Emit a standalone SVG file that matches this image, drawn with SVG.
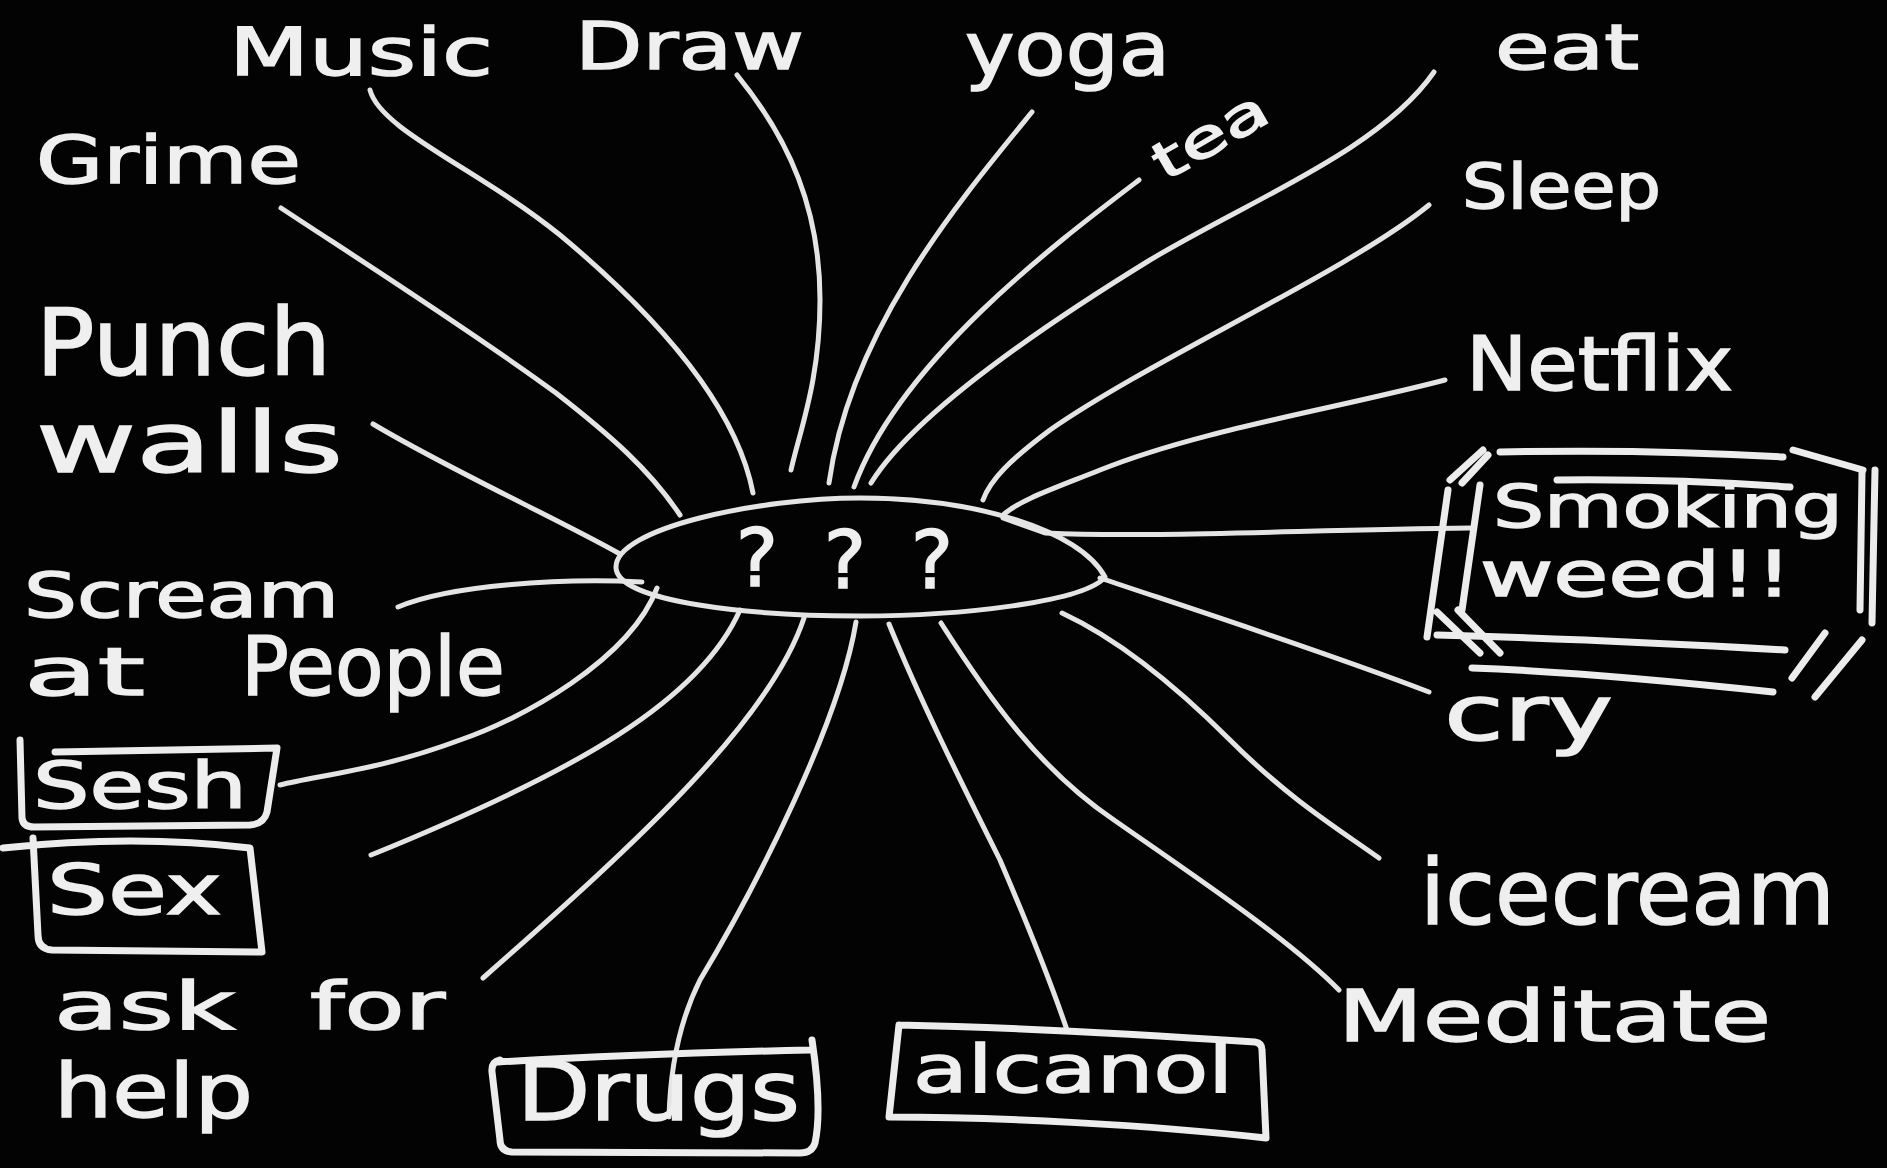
<svg xmlns="http://www.w3.org/2000/svg" width="1887" height="1168" viewBox="0 0 1887 1168">
<style>
.t { font-family: "DejaVu Sans", "Liberation Sans", sans-serif; fill: #efefef; stroke: #efefef; stroke-width: 1.5; }
.c { fill: none; stroke: #e4e4e4; stroke-width: 5; stroke-linecap: round; stroke-linejoin: round; }
.b { fill: none; stroke: #ececec; stroke-width: 7; stroke-linecap: round; stroke-linejoin: round; }
</style>
<rect x="0" y="0" width="1887" height="1168" fill="#030303"/>

<g id="connectors">
  <path class="c" d="M 370,90 C 380,130 480,170 560,235 C 650,310 735,400 753,493"/>
  <path class="c" d="M 737,75 C 790,140 820,210 820,300 C 820,380 800,430 791,470"/>
  <path class="c" d="M 1032,112 C 960,200 850,330 829,483"/>
  <path class="c" d="M 1139,180 C 1060,240 900,360 854,487"/>
  <path class="c" d="M 1434,72 C 1380,150 1250,200 1150,260 C 1020,340 910,420 871,483"/>
  <path class="c" d="M 1429,205 C 1350,270 1150,360 1050,430 C 1010,460 990,480 983,500"/>
  <path class="c" d="M 1445,380 C 1330,410 1200,430 1100,470 C 1050,490 1020,500 1003,515"/>
  <path class="c" d="M 1003,518 L 1045,533 C 1150,538 1300,530 1470,528"/>
  <path class="c" d="M 1100,578 C 1180,605 1320,650 1429,692"/>
  <path class="c" d="M 1062,613 C 1120,640 1180,690 1230,740 C 1290,800 1340,830 1379,858"/>
  <path class="c" d="M 941,623 C 990,700 1040,770 1114,820 C 1200,880 1290,940 1339,990"/>
  <path class="c" d="M 889,624 C 920,700 960,780 1000,860 C 1030,930 1050,980 1067,1030"/>
  <path class="c" d="M 856,622 C 840,720 760,880 700,980 C 675,1030 670,1080 669,1117"/>
  <path class="c" d="M 804,618 C 770,720 640,840 483,978"/>
  <path class="c" d="M 740,610 C 700,700 580,770 371,855"/>
  <path class="c" d="M 657,588 C 630,660 520,720 460,740 C 380,770 320,775 280,785"/>
  <path class="c" d="M 398,607 C 450,585 560,578 642,582"/>
  <path class="c" d="M 373,424 C 450,470 560,520 620,554"/>
  <path class="c" d="M 281,208 C 360,260 470,330 556,393 C 610,435 650,470 680,515"/>
</g>

<g id="center">
  <path class="c" d="M 616,568 C 614,528 760,498 860,498 C 975,498 1080,530 1105,577 C 1085,602 960,616 860,616 C 750,616 618,602 616,568 Z"/>
  <text class="t" x="757" y="586" font-size="80" text-anchor="middle">?</text>
  <text class="t" x="845" y="588" font-size="80" text-anchor="middle">?</text>
  <text class="t" x="932" y="588" font-size="80" text-anchor="middle">?</text>
</g>

<g id="music"><text class="t" x="229" y="75" font-size="66" textLength="264" lengthAdjust="spacingAndGlyphs">Music</text></g>
<g id="draw"><text class="t" x="575" y="69" font-size="66" textLength="229" lengthAdjust="spacingAndGlyphs">Draw</text></g>
<g id="yoga"><text class="t" x="965" y="75" font-size="75" textLength="205" lengthAdjust="spacingAndGlyphs">yoga</text></g>
<g id="eat"><text class="t" x="1495" y="69" font-size="62" textLength="144" lengthAdjust="spacingAndGlyphs">eat</text></g>
<g id="tea"><text class="t" x="1165" y="182" font-size="52" textLength="125" lengthAdjust="spacingAndGlyphs" transform="rotate(-30 1165 182)">tea</text></g>
<g id="grime"><text class="t" x="36" y="183" font-size="66" textLength="265" lengthAdjust="spacingAndGlyphs">Grime</text></g>
<g id="sleep"><text class="t" x="1462" y="208" font-size="62" textLength="199" lengthAdjust="spacingAndGlyphs">Sleep</text></g>
<g id="punch-walls">
  <text class="t" x="36" y="375" font-size="92" textLength="295" lengthAdjust="spacingAndGlyphs">Punch</text>
  <text class="t" x="36" y="472" font-size="84" textLength="307" lengthAdjust="spacingAndGlyphs">walls</text>
</g>
<g id="netflix"><text class="t" x="1466" y="390" font-size="74" textLength="267" lengthAdjust="spacingAndGlyphs">Netflix</text></g>
<g id="smoking-weed">
  <path class="b" d="M 1500,452 C 1600,450 1700,452 1783,457"/>
  <path class="b" d="M 1557,480 C 1650,479 1720,482 1790,487"/>
  <path class="b" d="M 1450,480 L 1483,450 M 1462,483 L 1488,455"/>
  <path class="b" d="M 1793,450 L 1863,470"/>
  <path class="b" d="M 1448,490 L 1427,637 M 1480,485 L 1462,610"/>
  <path class="b" d="M 1862,473 L 1860,610 M 1875,470 L 1872,623"/>
  <path class="b" d="M 1437,635 C 1550,638 1680,644 1785,650"/>
  <path class="b" d="M 1472,668 C 1580,672 1680,682 1773,692"/>
  <path class="b" d="M 1437,612 L 1480,653 M 1458,610 L 1500,653"/>
  <path class="b" d="M 1825,633 L 1792,678 M 1862,640 L 1815,697"/>
  <text class="t" x="1493" y="527" font-size="58" textLength="350" lengthAdjust="spacingAndGlyphs">Smoking</text>
  <text class="t" x="1480" y="596" font-size="62" textLength="312" lengthAdjust="spacingAndGlyphs">weed!!</text>
</g>
<g id="scream-at-people">
  <text class="t" x="24" y="617" font-size="62" textLength="315" lengthAdjust="spacingAndGlyphs">Scream</text>
  <text class="t" x="24" y="695" font-size="66" textLength="121" lengthAdjust="spacingAndGlyphs">at</text>
  <text class="t" x="241" y="695" font-size="82" textLength="264" lengthAdjust="spacingAndGlyphs">People</text>
</g>
<g id="cry"><text class="t" x="1444" y="740" font-size="76" textLength="169" lengthAdjust="spacingAndGlyphs">cry</text></g>
<g id="sesh">
  <path class="b" d="M 20,740 L 22,818 Q 23,827 34,827 L 250,825 Q 264,824 267,812 L 277,748 L 55,752"/>
  <text class="t" x="33" y="808" font-size="64" textLength="214" lengthAdjust="spacingAndGlyphs">Sesh</text>
</g>
<g id="sex">
  <path class="b" d="M 3,848 C 60,842 150,836 250,848 L 262,952 L 52,950 Q 38,949 38,935 L 33,838"/>
  <text class="t" x="47" y="914" font-size="70" textLength="175" lengthAdjust="spacingAndGlyphs">Sex</text>
</g>
<g id="icecream"><text class="t" x="1420" y="924" font-size="90" textLength="415" lengthAdjust="spacingAndGlyphs">icecream</text></g>
<g id="ask-for-help">
  <text class="t" x="54" y="1029" font-size="66" textLength="181" lengthAdjust="spacingAndGlyphs">ask</text>
  <text class="t" x="310" y="1029" font-size="66" textLength="135" lengthAdjust="spacingAndGlyphs">for</text>
  <text class="t" x="54" y="1117" font-size="74" textLength="199" lengthAdjust="spacingAndGlyphs">help</text>
</g>
<g id="drugs">
  <path class="b" d="M 498,1062 C 600,1056 720,1052 810,1050 M 812,1040 C 818,1080 820,1120 815,1143 Q 812,1153 800,1153 L 512,1152 Q 500,1151 500,1140 L 492,1072 Q 491,1062 500,1060"/>
  <text class="t" x="517" y="1120" font-size="82" textLength="283" lengthAdjust="spacingAndGlyphs">Drugs</text>
</g>
<g id="alcanol">
  <path class="b" d="M 899,1025 C 1000,1027 1150,1035 1255,1042 Q 1262,1043 1262,1050 L 1266,1138 C 1150,1125 1000,1117 889,1117 L 899,1025"/>
  <text class="t" x="913" y="1092" font-size="66" textLength="320" lengthAdjust="spacingAndGlyphs">alcanol</text>
</g>
<g id="meditate"><text class="t" x="1338" y="1041" font-size="72" textLength="433" lengthAdjust="spacingAndGlyphs">Meditate</text></g>
</svg>
